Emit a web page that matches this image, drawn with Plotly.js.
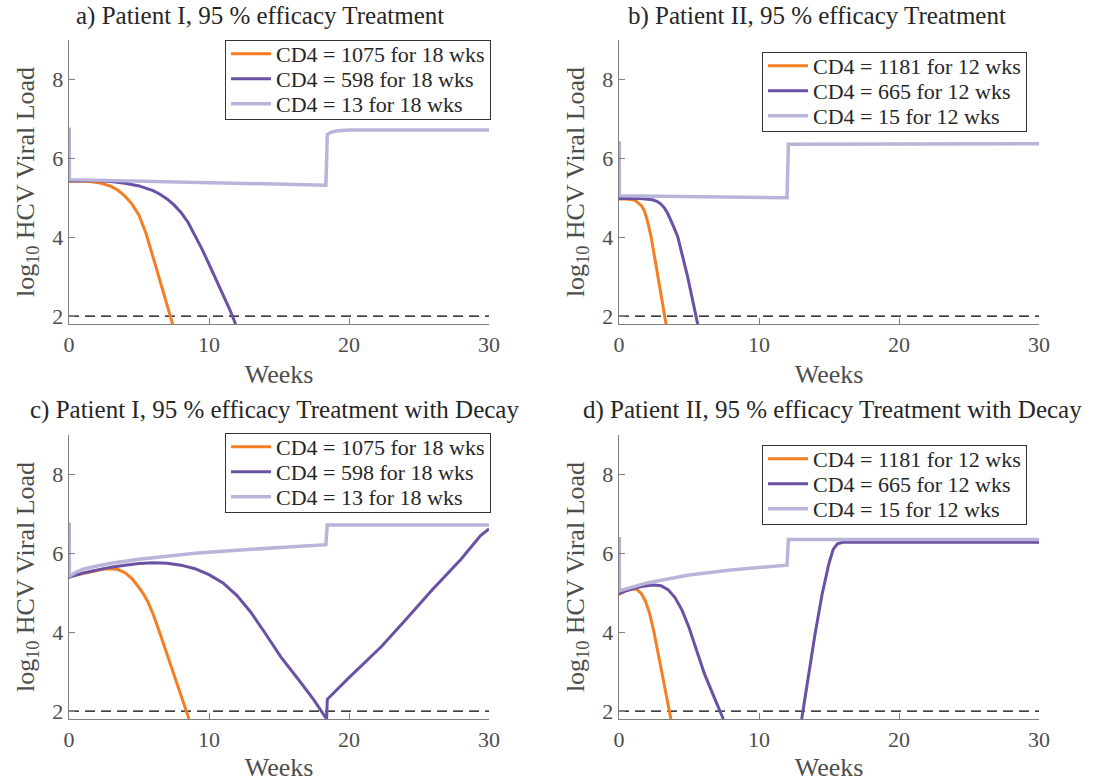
<!DOCTYPE html>
<html>
<head>
<meta charset="utf-8">
<script src="https://cdn.plot.ly/plotly-3.0.1.min.js"></script>
<style>html,body{margin:0;padding:0;background:#fff;}#chart{width:1107px;height:782px;}</style>
</head>
<body>
<div id="chart"></div>
<script>
// ---------- data (weeks, log10 HCV viral load) ----------
const panelTitles = [
  "a) Patient I, 95 % efficacy Treatment",
  "b) Patient II, 95 % efficacy Treatment",
  "c) Patient I, 95 % efficacy Treatment with Decay",
  "d) Patient II, 95 % efficacy Treatment with Decay"
];
const legendA = ["CD4 = 1075 for 18 wks", "CD4 = 598 for 18 wks", "CD4 = 13 for 18 wks"];
const legendB = ["CD4 = 1181 for 12 wks", "CD4 = 665 for 12 wks", "CD4 = 15 for 12 wks"];

// Panel a
const aHighWeeks = [0, 0.03, 0.5, 1, 1.5, 2, 2.5, 3, 3.5, 4, 4.5, 5, 5.5, 6, 6.5, 7, 7.4];
const aHighLoad  = [6.75, 5.42, 5.42, 5.42, 5.41, 5.39, 5.35, 5.29, 5.19, 5.04, 4.84, 4.56, 4.1, 3.5, 2.9, 2.3, 1.8];
const aMidWeeks  = [0, 0.03, 1, 2, 3, 4, 5, 6, 6.5, 7, 7.5, 8, 8.5, 9, 9.5, 10, 10.5, 11, 11.5, 11.9];
const aMidLoad   = [6.75, 5.43, 5.43, 5.43, 5.41, 5.37, 5.3, 5.18, 5.09, 4.97, 4.82, 4.63, 4.38, 4.05, 3.7, 3.32, 2.93, 2.55, 2.15, 1.8];
const aLowWeeks  = [0, 0.03, 18.35, 18.45, 18.7, 19.2, 20, 30];
const aLowLoad   = [6.78, 5.46, 5.32, 6.6, 6.66, 6.7, 6.72, 6.72];

// Panel b
const bHighWeeks = [0, 0.03, 0.5, 1.0, 1.2, 1.4, 1.6, 1.8, 2.0, 2.29, 2.76, 3.36];
const bHighLoad  = [6.42, 4.97, 4.97, 4.95, 4.92, 4.87, 4.8, 4.68, 4.46, 4.02, 3.0, 1.8];
const bMidWeeks  = [0, 0.03, 1.5, 2.0, 2.4, 2.7, 3.0, 3.25, 3.48, 3.8, 4.19, 4.9, 5.62];
const bMidLoad   = [6.42, 4.98, 4.98, 4.97, 4.95, 4.91, 4.84, 4.74, 4.6, 4.35, 4.02, 3.0, 1.8];
const bLowWeeks  = [0, 0.03, 12.0, 12.1, 30];
const bLowLoad   = [6.43, 5.05, 5.0, 6.36, 6.37];

// Panel c
const cHighWeeks = [0, 0.03, 0.5, 1, 1.5, 2, 2.5, 3, 3.5, 4, 4.5, 5, 5.3, 5.62, 6, 6.5, 7, 7.5, 8, 8.57];
const cHighLoad  = [6.77, 5.4, 5.45, 5.49, 5.53, 5.57, 5.6, 5.61, 5.59, 5.51, 5.36, 5.13, 4.98, 4.78, 4.47, 3.97, 3.45, 2.92, 2.38, 1.8];
const cMidWeeks  = [0, 0.03, 1, 2, 3, 4, 5, 6, 7, 8, 9, 10, 11, 12, 13, 14, 15.14, 16.5, 17.5, 18.4, 18.45, 20, 22.3, 24, 25.9, 28, 29.4, 30];
const cMidLoad   = [6.77, 5.4, 5.5, 5.58, 5.65, 5.7, 5.74, 5.76, 5.75, 5.7, 5.61, 5.46, 5.25, 4.93, 4.5, 3.98, 3.37, 2.75, 2.28, 1.8, 2.3, 2.85, 3.63, 4.3, 5.06, 5.85, 6.45, 6.62];
const cLowWeeks  = [0, 0.03, 0.5, 1, 2, 3, 5, 7, 9, 12, 15, 18.35, 18.45, 30];
const cLowLoad   = [6.78, 5.42, 5.52, 5.6, 5.68, 5.75, 5.85, 5.93, 6.0, 6.08, 6.15, 6.22, 6.72, 6.72];

// Panel d
const dHighWeeks = [0, 0.03, 0.5, 1.0, 1.3, 1.6, 1.9, 2.2, 2.5, 2.8, 3.1, 3.4, 3.71];
const dHighLoad  = [6.4, 4.97, 5.06, 5.1, 5.08, 4.98, 4.78, 4.46, 4.0, 3.45, 2.88, 2.32, 1.8];
const dMidWeeks  = [0, 0.03, 0.5, 1, 1.5, 2, 2.5, 3, 3.5, 4, 4.5, 5, 5.5, 6.1, 6.8, 7.45, null, 13.05, 13.5, 14, 14.5, 15, 15.3, 15.6, 16, 30];
const dMidLoad   = [6.4, 4.98, 5.05, 5.1, 5.15, 5.18, 5.2, 5.18, 5.08, 4.88, 4.56, 4.12, 3.6, 2.95, 2.35, 1.8, null, 1.8, 2.85, 3.95, 4.95, 5.75, 6.1, 6.24, 6.28, 6.28];
const dLowWeeks  = [0, 0.03, 0.5, 1, 2, 3, 5, 8, 12.0, 12.1, 30];
const dLowLoad   = [6.4, 5.05, 5.1, 5.15, 5.25, 5.32, 5.45, 5.58, 5.7, 6.35, 6.35];

// detection threshold
const threshWeeks = [0, 30];
const threshLoad  = [2, 2];

// ---------- styling ----------
const colHigh = "#f57e22", colMid = "#6a51a3", colLow = "#b8b4da";
const FONT = "'Liberation Serif', 'Times New Roman', 'DejaVu Serif', serif";
const panels = [
  {w:[aHighWeeks,aMidWeeks,aLowWeeks], v:[aHighLoad,aMidLoad,aLowLoad], names:legendA, xa:"x", ya:"y", leg:"legend"},
  {w:[bHighWeeks,bMidWeeks,bLowWeeks], v:[bHighLoad,bMidLoad,bLowLoad], names:legendB, xa:"x2", ya:"y2", leg:"legend2"},
  {w:[cHighWeeks,cMidWeeks,cLowWeeks], v:[cHighLoad,cMidLoad,cLowLoad], names:legendA, xa:"x3", ya:"y3", leg:"legend3"},
  {w:[dHighWeeks,dMidWeeks,dLowWeeks], v:[dHighLoad,dMidLoad,dLowLoad], names:legendB, xa:"x4", ya:"y4", leg:"legend4"}
];
const cols = [colHigh, colMid, colLow];
const widths = [3, 3, 3.5];
const traces = [];
panels.forEach(p => {
  traces.push({x: threshWeeks, y: threshLoad, xaxis: p.xa, yaxis: p.ya, mode: "lines",
    line: {color: "#000", width: 1.1, dash: "10px,6px"}, showlegend: false, hoverinfo: "skip"});
  for (let i = 0; i < 3; i++) {
    traces.push({x: p.w[i], y: p.v[i], xaxis: p.xa, yaxis: p.ya, mode: "lines", name: p.names[i],
      legend: p.leg, connectgaps: false,
      line: {color: cols[i], width: widths[i], shape: "linear"}});
  }
});

function xax(domain, anchor) {
  return {domain: domain, anchor: anchor, range: [0, 30], tickvals: [0, 10, 20, 30],
    ticks: "inside", ticklen: 6, tickcolor: "#7f7f7f", showline: true, linecolor: "#7f7f7f", linewidth: 1.3,
    showgrid: false, zeroline: false, tickfont: {family: FONT, size: 22, color: "#4d4d4d"},
    title: {text: "Weeks", font: {family: FONT, size: 26, color: "#4d4d4d"}, standoff: 9}};
}
function yax(domain, anchor) {
  return {domain: domain, anchor: anchor, range: [1.8, 9], tickvals: [2, 4, 6, 8],
    ticks: "inside", ticklen: 6, tickcolor: "#7f7f7f", showline: true, linecolor: "#7f7f7f", linewidth: 1.3,
    showgrid: false, zeroline: false, tickfont: {family: FONT, size: 22, color: "#4d4d4d"},
    title: {text: "log<sub>10</sub> HCV Viral Load", font: {family: FONT, size: 26, color: "#4d4d4d"}, standoff: 10}};
}
const xL = [69/1107, 489/1107], xR = [619/1107, 1039/1107];
const yT = [1 - 324/782, 1 - 40/782], yB = [1 - 719/782, 1 - 435/782];
function leg(x, y) {
  return {x: x, y: y, xanchor: "left", yanchor: "top", bgcolor: "#fff", bordercolor: "#333", borderwidth: 1,
    font: {family: FONT, size: 22, color: "#262626"}, itemwidth: 40, tracegroupgap: 0};
}
const titlePos = [[260, 16], [817, 16], [274, 410], [832, 410]];
const annotations = panelTitles.map((t, i) => ({
  text: t, xref: "paper", yref: "paper", x: titlePos[i][0]/1107, y: 1 - titlePos[i][1]/782,
  xanchor: "center", yanchor: "middle", showarrow: false,
  font: {family: FONT, size: 25, color: "#262626"}
}));

const layout = {
  width: 1107, height: 782, margin: {l: 0, r: 0, t: 0, b: 0},
  paper_bgcolor: "#fff", plot_bgcolor: "#fff",
  font: {family: FONT},
  xaxis: xax(xL, "y"), yaxis: yax(yT, "x"),
  xaxis2: xax(xR, "y2"), yaxis2: yax(yT, "x2"),
  xaxis3: xax(xL, "y3"), yaxis3: yax(yB, "x3"),
  xaxis4: xax(xR, "y4"), yaxis4: yax(yB, "x4"),
  legend: leg(225/1107, 1 - 40/782),
  legend2: leg(762/1107, 1 - 52/782),
  legend3: leg(225/1107, 1 - 433/782),
  legend4: leg(762/1107, 1 - 445/782),
  annotations: annotations,
  showlegend: true
};

// tighten legend row spacing to match the compact reference legend boxes
function tightenLegends(gd) {
  const gap = 25;
  const groups = Array.from(gd.querySelectorAll("g")).filter(g => /^legend\d*$/.test(g.getAttribute("class") || ""));
  groups.forEach(lg => {
    const items = Array.from(lg.querySelectorAll("g.traces"));
    if (items.length < 2) return;
    const pos = items.map(it => {
      const m = /translate\(\s*([-\d.e]+)[ ,]+([-\d.e]+)\s*\)/.exec(it.getAttribute("transform") || "");
      return m ? [parseFloat(m[1]), parseFloat(m[2])] : null;
    });
    if (pos.some(p => !p)) return;
    const top = pos[0][1] - 8;
    items.forEach((it, i) => it.setAttribute("transform", "translate(" + pos[i][0] + "," + (top + i * gap) + ")"));
    const shrink = (pos[pos.length - 1][1] - pos[0][1]) - (items.length - 1) * gap + 14;
    const bg = lg.querySelector("rect.bg");
    if (bg) bg.setAttribute("height", parseFloat(bg.getAttribute("height")) - shrink);
  });
}
Plotly.newPlot("chart", traces, layout, {staticPlot: true, displayModeBar: false}).then(tightenLegends);
</script>
</body>
</html>
